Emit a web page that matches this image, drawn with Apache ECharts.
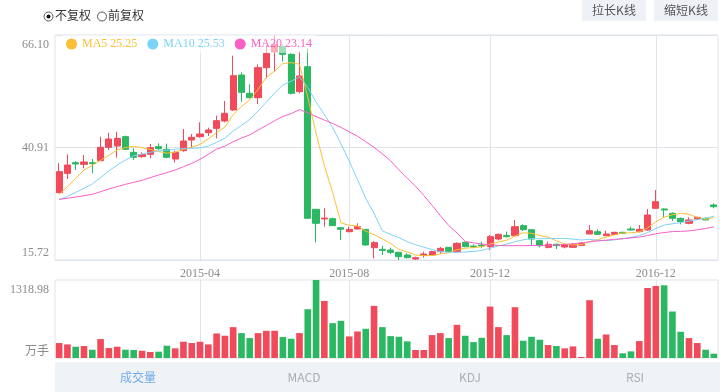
<!DOCTYPE html>
<html><head><meta charset="utf-8">
<script src="https://cdn.jsdelivr.net/npm/echarts@6/dist/echarts.min.js"></script>
<style>html,body{margin:0;padding:0;background:#fff}#c{width:720px;height:392px}</style>
</head><body><div id="c"></div>
<script>
const categories = [
'2014-12-05','2014-12-12','2014-12-19','2014-12-26','2015-01-02','2015-01-09','2015-01-16','2015-01-23','2015-01-30','2015-02-06',
'2015-02-13','2015-02-20','2015-02-27','2015-03-06','2015-03-13','2015-03-20','2015-03-27','2015-04-03','2015-04-10','2015-04-17',
'2015-04-24','2015-05-01','2015-05-08','2015-05-15','2015-05-22','2015-05-29','2015-06-05','2015-06-12','2015-06-19','2015-06-26',
'2015-07-03','2015-07-10','2015-07-17','2015-07-24','2015-07-31','2015-08-07','2015-08-14','2015-08-21','2015-08-28','2015-09-04',
'2015-09-11','2015-09-18','2015-09-25','2015-10-02','2015-10-09','2015-10-16','2015-10-23','2015-10-30','2015-11-06','2015-11-13',
'2015-11-20','2015-11-27','2015-12-04','2015-12-11','2015-12-18','2015-12-25','2016-01-08','2016-01-15','2016-01-22','2016-01-29',
'2016-09-02','2016-09-09','2016-09-16','2016-09-23','2016-09-30','2016-10-14','2016-10-21','2016-10-28','2016-11-04','2016-11-11',
'2016-11-18','2016-11-25','2016-12-02','2016-12-09','2016-12-16','2016-12-23','2016-12-30','2017-01-06','2017-01-13','2017-01-20'];

const open = [
30.80,35.13,37.51,37.14,37.51,37.96,40.95,41.25,43.34,39.83,
38.86,39.38,41.10,40.50,38.33,40.20,42.59,43.34,44.23,45.20,
46.84,49.31,57.14,53.04,52.07,58.79,62.30,63.49,61.77,53.41,
59.01,27.07,24.90,24.97,22.96,22.06,22.66,22.59,18.48,18.11,
17.96,17.44,16.84,15.94,16.77,16.84,17.59,18.56,17.59,19.68,
18.85,19.08,18.71,20.42,21.24,21.17,23.41,22.51,20.05,18.56,
19.23,18.63,18.56,19.00,21.54,22.06,21.17,21.47,21.91,22.66,
22.06,22.44,27.29,27.14,26.17,25.05,23.93,24.90,25.05,28.04];
const close = [
35.50,36.99,37.22,37.66,37.29,40.95,42.81,42.96,40.50,38.71,
39.31,40.87,40.65,38.71,39.83,42.37,43.19,43.93,44.83,46.92,
48.56,56.99,53.26,52.07,58.79,61.99,64.00,61.77,53.04,56.92,
25.05,23.93,25.10,23.41,22.59,22.59,23.18,19.08,19.60,17.88,
17.44,16.47,16.24,16.24,17.06,17.59,18.33,17.59,19.45,18.71,
18.63,18.85,20.94,21.47,20.94,23.18,22.51,20.42,18.93,19.23,
18.93,19.08,19.23,19.50,22.29,21.47,21.54,21.91,21.69,22.44,
22.59,25.80,28.78,26.92,25.05,24.30,24.68,25.27,24.68,27.66];
const low = [
30.65,33.86,35.87,36.25,35.13,37.89,40.35,38.63,40.35,38.11,
38.63,38.48,40.35,38.48,37.51,39.98,40.87,43.11,43.49,42.96,
46.55,49.08,51.17,51.92,50.65,56.40,57.89,60.13,52.81,53.04,
24.90,19.68,23.18,23.33,20.20,21.91,22.59,18.93,16.09,16.84,
17.06,15.72,16.09,15.72,16.24,16.69,17.14,17.51,17.51,18.56,
18.33,18.33,17.96,20.12,20.72,21.02,22.21,19.08,18.56,18.33,
18.18,18.33,18.48,18.90,21.54,21.47,21.17,21.32,21.54,22.29,
21.91,22.29,27.14,25.27,24.45,23.71,23.71,24.90,24.60,27.29];
const high = [
37.40,39.38,37.89,39.23,38.33,43.34,44.23,44.46,43.56,40.72,
39.83,41.69,41.84,41.77,40.20,45.05,43.93,46.55,45.35,48.04,
51.32,61.47,57.74,55.05,59.53,63.86,66.10,64.01,61.99,62.37,
63.11,27.14,27.29,25.20,23.11,23.18,23.93,22.66,19.97,18.85,
18.48,17.59,17.21,16.47,17.59,17.81,18.63,18.63,19.68,19.82,
19.23,19.82,21.32,21.62,22.06,24.68,23.71,22.66,20.20,19.82,
19.45,19.30,19.45,19.70,23.56,22.59,22.29,22.06,22.06,23.18,
23.56,27.14,31.39,27.29,26.39,25.20,25.27,25.42,25.20,28.41];
const volume = [
253,230,191,202,140,320,168,191,140,135,
123,101,107,208,163,275,253,275,230,415,
376,522,421,337,421,460,460,354,326,421,
825,1318.98,965,589,629,365,449,494,881,522,
370,359,281,135,135,387,421,337,561,376,
269,342,870,522,387,859,292,359,309,219,
202,163,196,17,977,326,398,219,79,112,
286,1184,1218,1229,786,443,337,253,140,73];
const ma5 = [
30.42,32.14,34.01,35.87,36.93,38.02,39.19,40.33,40.90,41.19,
40.86,40.47,40.01,39.65,39.87,40.49,40.95,41.61,42.83,44.25,
45.49,48.25,50.11,51.56,53.93,56.62,58.02,59.72,59.92,59.54,
52.16,44.14,36.81,30.88,24.02,23.52,23.33,22.17,21.40,20.46,
19.43,18.09,17.53,16.85,16.69,16.72,17.09,17.36,18.01,18.33,
18.55,18.65,19.32,19.72,20.17,21.08,21.81,21.70,21.20,20.85,
20.00,19.32,19.08,19.19,19.81,20.31,20.81,21.34,21.78,21.81,
22.03,22.89,24.26,25.31,25.83,26.17,25.95,25.25,24.80,25.25];
const ma10 = [
29.30,29.90,30.87,31.77,32.74,34.16,35.65,36.99,38.11,39.06,
39.44,39.83,40.17,40.28,40.53,40.67,40.71,40.81,41.24,42.06,
42.99,44.60,45.86,47.20,49.09,51.05,53.13,54.92,55.74,56.74,
54.39,51.08,48.27,45.40,41.78,37.84,33.76,29.49,26.14,22.24,
21.46,20.71,19.85,19.13,18.58,18.08,17.59,17.45,17.43,17.51,
17.63,17.87,18.34,18.87,19.26,19.82,20.24,20.52,20.47,20.52,
20.54,20.56,20.39,20.20,20.33,20.16,20.06,20.21,20.49,20.81,
21.17,21.85,22.80,23.55,23.82,24.10,24.42,24.75,25.05,25.53];
const ma20 = [
29.30,29.53,29.83,30.12,30.42,31.02,31.62,32.14,32.66,33.11,
33.56,34.16,34.75,35.27,35.87,36.62,37.36,38.26,39.38,40.56,
41.21,42.21,43.02,43.74,44.81,45.86,46.92,47.86,48.49,49.40,
48.69,47.84,47.06,46.29,45.43,44.44,43.44,42.20,40.94,39.48,
37.93,35.90,34.05,32.26,30.17,27.95,25.67,23.46,21.78,19.86,
19.55,19.29,19.09,19.00,18.91,18.94,18.92,18.98,18.95,19.02,
19.08,19.21,19.36,19.53,19.80,20.00,20.16,20.37,20.48,20.67,
20.86,21.20,21.60,21.87,22.08,22.13,22.24,22.48,22.77,23.14];
const priceTicks = [15.72, 40.91, 66.10];
const volumeTicks = [0, 1318.98];
const volumeUnit = '万手';
const tickLabels = ['2015-04', '2015-08', '2015-12', '2016-12'];

const RED = '#f04a5b', GREEN = '#2bb862';
const C5 = '#fcbf33', C10 = '#7dd3f5', C20 = '#fa5fc6';
const GRID = '#dfe4ea', LABEL = '#8c8c8c';
const SERIF = "'Liberation Serif', 'Noto Sans CJK SC', serif";
const SANS = "'Noto Sans CJK SC', 'Noto Sans', sans-serif";

const tickIdx = tickLabels.map(t => categories.findIndex(c => c.slice(0, 7) === t));
const showTick = (i) => tickIdx.indexOf(i) >= 0;
const kdata = open.map((o, i) => [o, close[i], low[i], high[i]]);
const maSeries = { MA5: ma5, MA10: ma10, MA20: ma20 };

const pMin = priceTicks[0], pMax = priceTicks[priceTicks.length - 1];
const pInt = +(priceTicks[1] - priceTicks[0]).toFixed(2);
const vMax = volumeTicks[1];

const richBase = {
  v: { fontFamily: SERIF, fontSize: 12, color: LABEL, lineHeight: 14 },
  top: { fontSize: 12, lineHeight: 20 },
  bot: { fontSize: 12, lineHeight: 15 },
  bot2: { fontSize: 12, lineHeight: 13 }
};

const chart = echarts.init(document.getElementById('c'));
chart.setOption({
  animation: false,
  grid: [
    { left: 55, right: 2, top: 35, bottom: 132, show: true, borderColor: GRID, borderWidth: 1 },
    { left: 55, right: 2, top: 280, bottom: 34, show: true, borderColor: GRID, borderWidth: 1 }
  ],
  legend: {
    data: [
      { name: 'MA5', textStyle: { color: C5 } },
      { name: 'MA10', textStyle: { color: C10 } },
      { name: 'MA20', textStyle: { color: C20 } }
    ],
    left: 62, top: 35, padding: [3, 4], itemWidth: 11, itemHeight: 11, itemGap: 10,
    icon: 'circle', selectedMode: false,
    backgroundColor: 'rgba(255,255,255,0.55)',
    textStyle: { fontFamily: SERIF, fontSize: 12 },
    formatter: (name) => name + ' ' + maSeries[name][maSeries[name].length - 1].toFixed(2)
  },
  xAxis: [
    {
      type: 'category', data: categories, gridIndex: 0, boundaryGap: true,
      axisLine: { show: false }, axisTick: { show: false },
      axisLabel: { interval: (i) => showTick(i), formatter: (v) => v.slice(0, 7),
        color: LABEL, fontFamily: SERIF, fontSize: 12, margin: 8 },
      splitLine: { show: true, interval: (i) => showTick(i), alignWithLabel: true, lineStyle: { color: GRID, width: 1 } }
    },
    {
      type: 'category', data: categories, gridIndex: 1, boundaryGap: true,
      axisLine: { show: false }, axisTick: { show: false }, axisLabel: { show: false },
      splitLine: { show: true, interval: (i) => showTick(i), alignWithLabel: true, lineStyle: { color: GRID, width: 1 } }
    }
  ],
  yAxis: [
    {
      type: 'value', gridIndex: 0, min: pMin, max: pMax, interval: pInt,
      axisLine: { show: false }, axisTick: { show: false },
      splitLine: { show: true, lineStyle: { color: GRID, width: 1 } },
      axisLabel: {
        margin: 6, color: LABEL, fontFamily: SERIF, fontSize: 12,
        formatter: (v) => {
          const s = v.toFixed(2);
          if (v >= pMax - 1e-6) return '{top| }\n{v|' + s + '}';
          if (v <= pMin + 1e-6) return '{v|' + s + '}\n{bot| }';
          return '{v|' + s + '}';
        },
        rich: richBase
      }
    },
    {
      type: 'value', gridIndex: 1, min: volumeTicks[0], max: vMax, interval: vMax - volumeTicks[0],
      axisLine: { show: false }, axisTick: { show: false }, splitLine: { show: false },
      axisLabel: {
        margin: 6, color: LABEL, fontFamily: SERIF, fontSize: 12,
        formatter: (v) => {
          if (v <= volumeTicks[0] + 1e-6) return '{v|' + volumeUnit + '}\n{bot2| }';
          return '{top| }\n{v|' + v.toFixed(2) + '}';
        },
        rich: richBase
      }
    }
  ],
  series: [
    {
      type: 'candlestick', name: 'K', xAxisIndex: 0, yAxisIndex: 0, data: kdata, barWidth: '80%',
      itemStyle: { color: RED, color0: GREEN, borderColor: RED, borderColor0: GREEN, borderWidth: 1 }
    },
    { type: 'line', name: 'MA5', data: ma5, xAxisIndex: 0, yAxisIndex: 0, symbol: 'none', smooth: false,
      lineStyle: { color: C5, width: 1 }, itemStyle: { color: C5 } },
    { type: 'line', name: 'MA10', data: ma10, xAxisIndex: 0, yAxisIndex: 0, symbol: 'none', smooth: false,
      lineStyle: { color: C10, width: 1 }, itemStyle: { color: C10 } },
    { type: 'line', name: 'MA20', data: ma20, xAxisIndex: 0, yAxisIndex: 0, symbol: 'none', smooth: false,
      lineStyle: { color: C20, width: 1 }, itemStyle: { color: C20 } },
    {
      type: 'bar', name: 'VOL', xAxisIndex: 1, yAxisIndex: 1, barWidth: '80%',
      data: volume.map((v, i) => ({ value: v, itemStyle: { color: close[i] >= open[i] ? RED : GREEN } }))
    }
  ],
  graphic: [
    { type: 'circle', shape: { cx: 48.5, cy: 16.5, r: 4.5 }, style: { fill: '#fff', stroke: '#555', lineWidth: 1 } },
    { type: 'circle', shape: { cx: 48.5, cy: 16.5, r: 2 }, style: { fill: '#111' } },
    { type: 'text', x: 55, y: 15, style: { text: '不复权', fill: '#333', font: '12px ' + SANS, verticalAlign: 'middle' } },
    { type: 'circle', shape: { cx: 102, cy: 16.5, r: 4.5 }, style: { fill: '#fff', stroke: '#555', lineWidth: 1 } },
    { type: 'text', x: 108, y: 15, style: { text: '前复权', fill: '#333', font: '12px ' + SANS, verticalAlign: 'middle' } },
    { type: 'rect', shape: { x: 582, y: 0, width: 64, height: 21 }, style: { fill: '#eef1f6' } },
    { type: 'text', x: 614, y: 10.5, style: { text: '拉长K线', fill: '#555', font: '12px ' + SANS, align: 'center', verticalAlign: 'middle' } },
    { type: 'rect', shape: { x: 654, y: 0, width: 64, height: 21 }, style: { fill: '#eef1f6' } },
    { type: 'text', x: 686, y: 10.5, style: { text: '缩短K线', fill: '#555', font: '12px ' + SANS, align: 'center', verticalAlign: 'middle' } },
    { type: 'rect', shape: { x: 55, y: 362, width: 665, height: 30 }, style: { fill: '#f0f3f6' } },
    { type: 'text', x: 138, y: 377, style: { text: '成交量', fill: '#72a9e9', font: '12px ' + SANS, align: 'center', verticalAlign: 'middle' } },
    { type: 'text', x: 304, y: 377, style: { text: 'MACD', fill: '#a9aeb5', font: '12px ' + SANS, align: 'center', verticalAlign: 'middle' } },
    { type: 'text', x: 470, y: 377, style: { text: 'KDJ', fill: '#a9aeb5', font: '12px ' + SANS, align: 'center', verticalAlign: 'middle' } },
    { type: 'text', x: 635, y: 377, style: { text: 'RSI', fill: '#a9aeb5', font: '12px ' + SANS, align: 'center', verticalAlign: 'middle' } }
  ]
});
</script>
</body></html>
